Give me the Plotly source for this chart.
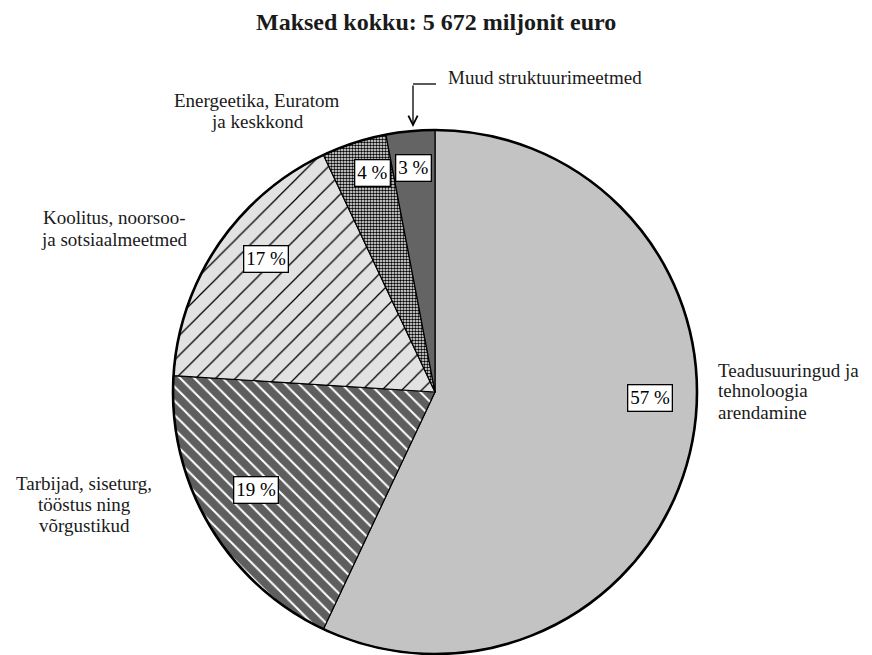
import math
import plotly.graph_objects as go

# Payment breakdown (share of total, %), clockwise from 12 o'clock
categories = [
    "Teadusuuringud ja<br>tehnoloogia<br>arendamine",
    "Tarbijad, siseturg,<br>tööstus ning<br>võrgustikud",
    "Koolitus, noorsoo-<br>ja sotsiaalmeetmed",
    "Energeetika, Euratom<br>ja keskkond",
    "Muud struktuurimeetmed",
]
shares = [57, 19, 17, 4, 3]
title_text = "Maksed kokku: 5 672 miljonit euro"

# slice styling
fill_colors = ["#c3c3c3", "#5e5e5e", "#e2e2e2", "#ffffff", "#646464"]
pattern_shapes = ["", "\\", "/", ".", ""]
pattern_fg = ["black", "white", "black", "black", "black"]
pattern_size = [8, 10, 14, 3, 8]
pattern_solidity = [0.2, 0.2, 0.09, 0.55, 0.2]

W, H = 872, 655
CX, CY, R = 435, 392, 262  # pie centre and radius in pixels (from top-left)

FONT = "Liberation Serif"
LINE_GAP = 21

def px_to_paper(x, y):
    return x / W, 1 - y / H

fig = go.Figure()
fig.add_trace(go.Pie(
    labels=categories,
    values=shares,
    sort=False,
    direction="clockwise",
    rotation=0,
    textinfo="none",
    hoverinfo="label+percent",
    showlegend=False,
    domain=dict(x=[(CX - R) / W, (CX + R) / W], y=[1 - (CY + R) / H, 1 - (CY - R) / H]),
    marker=dict(
        colors=fill_colors,
        line=dict(color="black", width=1.2),
        pattern=dict(
            shape=pattern_shapes,
            fgcolor=pattern_fg,
            bgcolor=fill_colors,
            size=pattern_size,
            solidity=pattern_solidity,
        ),
    ),
))

# heavier outline around the whole pie
x0, y1 = px_to_paper(CX - R, CY - R)
x1, y0 = px_to_paper(CX + R, CY + R)
fig.add_shape(type="circle", xref="paper", yref="paper",
              x0=x0, y0=y0, x1=x1, y1=y1,
              line=dict(color="black", width=2.6))

# percentage badges placed along each slice's angle
label_radius = [0.82, 0.78, 0.82, 0.87, 0.86]
label_shift = [-11, 2, 4, 2, 0]  # degrees added to the slice mid-angle
total = sum(shares)
start = 0.0
annotations = []
for v, rf, sh in zip(shares, label_radius, label_shift):
    span = 360.0 * v / total
    mid = math.radians(start + span / 2 + sh)
    start += span
    px = CX + rf * R * math.sin(mid)
    py = CY - rf * R * math.cos(mid)
    ax, ay = px_to_paper(px, py)
    annotations.append(dict(
        x=ax, y=ay, xref="paper", yref="paper", showarrow=False,
        xanchor="center", yanchor="middle",
        text=f"{v} %", font=dict(family=FONT, size=19, color="black"),
        bgcolor="white", bordercolor="black", borderwidth=1.3, borderpad=2,
    ))

# category captions, one annotation per line for tight leading
captions = [
    (categories[0], 716, 370, "left"),
    (categories[1], 84, 483, "center"),
    (categories[2], 114, 218, "center"),
    (categories[3], 257, 100, "center"),
    (categories[4], 446, 77, "left"),
]
for text, x, y, anchor in captions:
    for i, line in enumerate(text.split("<br>")):
        ax, ay = px_to_paper(x, y + i * LINE_GAP)
        annotations.append(dict(
            x=ax, y=ay, xref="paper", yref="paper", showarrow=False,
            text=line, xanchor=anchor, yanchor="middle",
            font=dict(family=FONT, size=19, color="#1a1a1a"),
        ))

# title
tx, ty = px_to_paper(436, 22)
annotations.append(dict(
    x=tx, y=ty, xref="paper", yref="paper", showarrow=False,
    text=f"<b>{title_text}</b>", font=dict(family=FONT, size=24, color="#1a1a1a"),
    xanchor="center", yanchor="middle",
))

# elbow pointer for the smallest slice
ex, ey = px_to_paper(413, 84)
hx, _ = px_to_paper(436, 84)
fig.add_shape(type="line", xref="paper", yref="paper",
              x0=ex, y0=ey, x1=hx, y1=ey, line=dict(color="black", width=1.3))
tipx, tipy = px_to_paper(413, 127)
annotations.append(dict(
    x=tipx, y=tipy, xref="paper", yref="paper", text="", showarrow=True,
    ax=0, ay=-43, axref="pixel", ayref="pixel",
    arrowhead=5, arrowsize=1.4, arrowwidth=1.3, arrowcolor="black",
))

fig.update_layout(
    width=W, height=H,
    margin=dict(l=0, r=0, t=0, b=0),
    paper_bgcolor="white",
    plot_bgcolor="white",
    annotations=annotations,
)

fig.write_html("out.html")
